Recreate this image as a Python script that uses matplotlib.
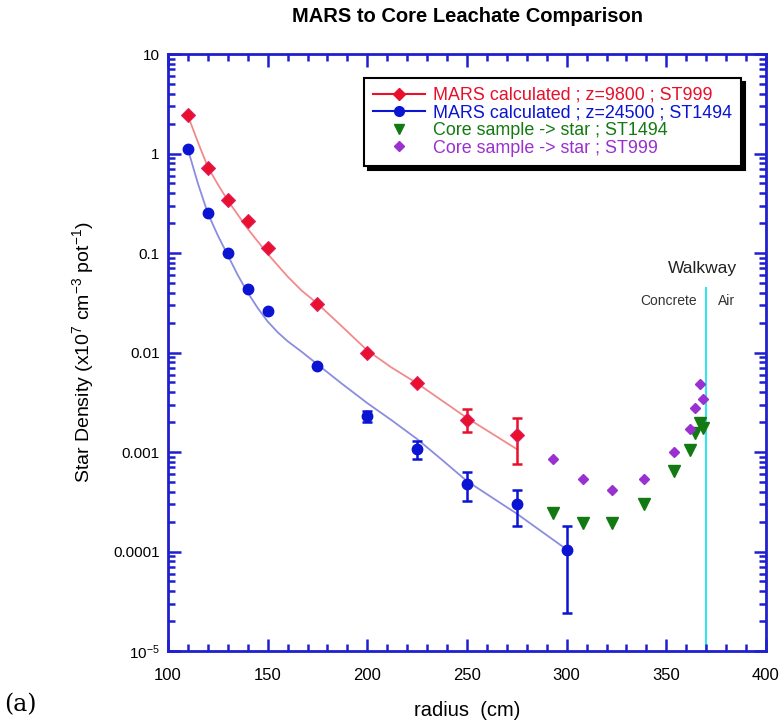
import matplotlib
matplotlib.use("Agg")
import matplotlib.pyplot as plt
from matplotlib.lines import Line2D
from matplotlib.ticker import FixedLocator, FixedFormatter, MultipleLocator, LogLocator, NullFormatter

plt.rcParams.update({"font.family": ["Liberation Sans", "DejaVu Sans"], "mathtext.fontset": "custom",
                     "mathtext.rm": "Liberation Sans", "mathtext.it": "Liberation Sans"})

# MARS calculated, z=9800, ST999 (red)
r_red = [110, 120, 130, 140, 150, 175, 200, 225, 250, 275]
y_red = [2.46, 0.72, 0.345, 0.21, 0.113, 0.031, 0.010, 0.0049, 0.0021, 0.00148]
red_lo = [None] * 8 + [0.0016, 0.00075]
red_hi = [None] * 8 + [0.0027, 0.0022]

# MARS calculated, z=24500, ST1494 (blue)
r_blue = [110, 120, 130, 140, 150, 175, 200, 225, 250, 275, 300]
y_blue = [1.12, 0.25, 0.10, 0.043, 0.026, 0.0074, 0.0023, 0.00107, 0.00048, 0.00030, 0.000103]
blue_lo = [None] * 6 + [0.0020, 0.00085, 0.00032, 0.00018, 0.000024]
blue_hi = [None] * 6 + [0.0026, 0.0013, 0.00063, 0.00042, 0.00018]

# fit curves
r_fit_red = [110, 115, 120, 125, 130, 140, 150, 160, 167, 175, 187, 200, 212, 225, 250, 275]
y_fit_red = [2.4, 1.3, 0.73, 0.49, 0.337, 0.175, 0.098, 0.058, 0.042, 0.031, 0.0185, 0.0105, 0.0071, 0.0049, 0.0022, 0.00107]
r_fit_blue = [110, 115, 120, 125, 130, 135, 140, 145, 150, 155, 160, 167, 175, 187, 200, 212, 225, 237, 250, 275, 300]
y_fit_blue = [1.1, 0.5, 0.25, 0.15, 0.095, 0.06, 0.04, 0.028, 0.0205, 0.016, 0.013, 0.0102, 0.0076, 0.0049, 0.0031, 0.0021, 0.00135, 0.00085, 0.00051, 0.00024, 0.000105]

# Core samples
r_core = [293, 308, 323, 339, 354, 362, 364.5, 367, 368.5]
y_core_1494 = [0.000246, 0.000195, 0.000195, 0.00030, 0.00065, 0.00106, 0.00154, 0.00194, 0.00173]
y_core_999 = [0.00086, 0.00053, 0.00042, 0.00053, 0.00101, 0.0017, 0.0028, 0.0048, 0.0034]

walkway_r = 370

RED, BLUE = "#e8102a", "#0a14d2"
GREEN, PURPLE = "#137a13", "#9a30d0"
AXC = "#1f1fd0"

fig = plt.figure(figsize=(7.8, 7.25), dpi=100)
ax = fig.add_axes([0.2154, 0.102, 0.7666, 0.8235])
ax.set_yscale("log")
ax.set_xlim(100, 400)
ax.set_ylim(1e-5, 10)

ax.plot(r_fit_red, y_fit_red, color="#f28a8a", lw=1.3, zorder=2)
ax.plot(r_fit_blue, y_fit_blue, color="#8c8ce0", lw=1.3, zorder=2)


def err(x, y, lo, hi):
    xs, ys, el, eh = [], [], [], []
    for xi, yi, l, h in zip(x, y, lo, hi):
        if l is not None:
            xs.append(xi); ys.append(yi); el.append(yi - l); eh.append(h - yi)
    return xs, ys, [el, eh]


xs, ys, e = err(r_red, y_red, red_lo, red_hi)
ax.errorbar(xs, ys, yerr=e, fmt="none", ecolor=RED, elinewidth=1.8, capsize=3.5, capthick=1.8, zorder=3)
xs, ys, e = err(r_blue, y_blue, blue_lo, blue_hi)
ax.errorbar(xs, ys, yerr=e, fmt="none", ecolor=BLUE, elinewidth=1.8, capsize=3.5, capthick=1.8, zorder=3)

ax.plot(r_red, y_red, "D", color=RED, ms=7, mec="#e0206a", mew=0.8, ls="none", zorder=4)
ax.plot(r_blue, y_blue, "o", color=BLUE, ms=7.5, ls="none", zorder=4)
ax.plot(r_core, y_core_1494, "v", color=GREEN, ms=8, ls="none", zorder=4)
ax.plot(r_core, y_core_999, "D", color=PURPLE, ms=5.5, ls="none", zorder=4)

ax.plot([walkway_r, walkway_r], [1e-5, 0.045], color="#33e5f0", lw=1.5, zorder=1)
ax.text(368, 0.07, "Walkway", ha="center", va="center", fontsize=12.5, color="#222222")
ax.text(365.4, 0.0326, "Concrete", ha="right", va="center", fontsize=10, color="#333333")
ax.text(376, 0.0326, "Air", ha="left", va="center", fontsize=10, color="#333333")

# axes styling
for s in ax.spines.values():
    s.set_color(AXC)
    s.set_linewidth(2)
ax.xaxis.set_major_locator(MultipleLocator(50))
ax.xaxis.set_minor_locator(MultipleLocator(10))
ax.yaxis.set_major_locator(FixedLocator([1e-5, 1e-4, 1e-3, 1e-2, 0.1, 1, 10]))
ax.yaxis.set_major_formatter(FixedFormatter(["10$^{-5}$", "0.0001", "0.001", "0.01", "0.1", "1", "10"]))
ax.yaxis.set_minor_locator(LogLocator(base=10, subs=range(2, 10), numticks=20))
ax.yaxis.set_minor_formatter(NullFormatter())
ax.tick_params(which="both", direction="in", color=AXC, top=True, right=True, width=1.8)
ax.tick_params(which="major", length=9)
ax.tick_params(which="minor", length=5)
ax.tick_params(axis="x", pad=12, labelsize=12)
ax.tick_params(axis="y", pad=6, labelsize=11)

ax.set_xlabel("radius  (cm)", fontsize=14.5, va="center")
ax.xaxis.set_label_coords(0.5, -(710 - 651) / 597)
ax.set_ylabel("Star Density (x10$^7$ cm$^{-3}$ pot$^{-1}$)", fontsize=14, va="center")
ax.yaxis.set_label_coords(-(168 - 83) / 598, 0.5)
fig.text(468 / 780, 1 - 17 / 725, "MARS to Core Leachate Comparison", ha="center", va="center",
         fontsize=14.5, fontweight="bold")
fig.text(0.005, 0.028, "(a)", ha="left", va="center", fontsize=17, family="DejaVu Serif")

handles = [
    Line2D([], [], color=RED, marker="D", ms=6),
    Line2D([], [], color=BLUE, marker="o", ms=7),
    Line2D([], [], color=GREEN, marker="v", ls="none", ms=7),
    Line2D([], [], color=PURPLE, marker="D", ls="none", ms=5),
]
labels = ["MARS calculated ; z=9800 ; ST999", "MARS calculated ; z=24500 ; ST1494",
          "Core sample -> star ; ST1494", "Core sample -> star ; ST999"]
leg = ax.legend(handles, labels, loc="upper left", bbox_to_anchor=((364 - 168) / 598, (651 - 78) / 597),
                borderaxespad=0, fontsize=12.9,
                frameon=True, fancybox=False, edgecolor="black", framealpha=1,
                shadow={"color": "black", "alpha": 1, "ox": 3, "oy": -3},
                handlelength=2.9, handletextpad=0.45, labelspacing=0.03, borderpad=0.5)
leg.get_frame().set_linewidth(1.5)
for t, c in zip(leg.get_texts(), [RED, BLUE, GREEN, PURPLE]):
    t.set_color(c)

fig.savefig("out.png", dpi=100, facecolor="white")
